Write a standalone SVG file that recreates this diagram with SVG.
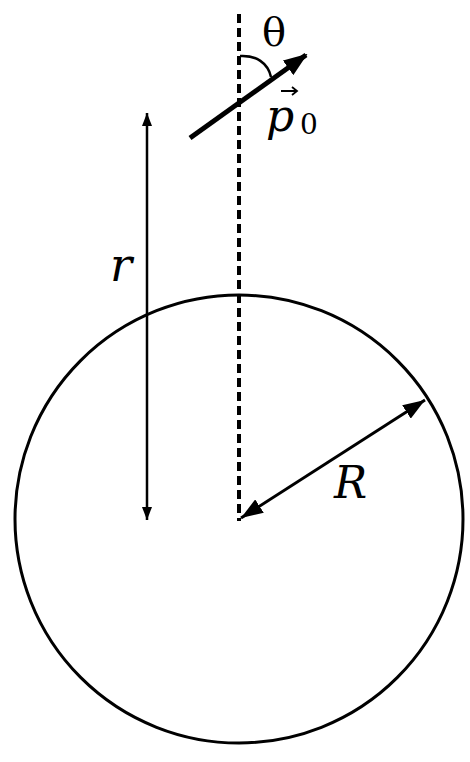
<svg xmlns="http://www.w3.org/2000/svg" width="470" height="762" viewBox="0 0 470 762">
<style>
.ln{stroke:#000;fill:none}
.t{font-family:"DejaVu Serif", serif;fill:#000}
</style>
<defs>
<marker id="ah" viewBox="0 0 22 16" refX="22" refY="8" markerWidth="22" markerHeight="16" orient="auto-start-reverse" markerUnits="userSpaceOnUse"><path d="M0,0 L22,8 L0,16 z" fill="#000"/></marker>
<marker id="ahs" viewBox="0 0 13 10" refX="13" refY="5" markerWidth="13" markerHeight="10" orient="auto-start-reverse" markerUnits="userSpaceOnUse"><path d="M0,0 L13,5 L0,10 z" fill="#000"/></marker>
<marker id="ahb" viewBox="0 0 24 18" refX="22" refY="9" markerWidth="24" markerHeight="18" orient="auto" markerUnits="userSpaceOnUse"><path d="M0,0 L24,9 L0,18 z" fill="#000"/></marker>
</defs>
<g id="sphere"><circle class="ln" cx="239" cy="519" r="224" stroke-width="3"/></g>
<g id="connectors">
<line class="ln" x1="239" y1="14" x2="239" y2="521" stroke-width="4" stroke-dasharray="9,5"/>
<line class="ln" x1="147" y1="113" x2="147" y2="520" stroke-width="2.5" marker-start="url(#ahs)" marker-end="url(#ahs)"/>
<line class="ln" x1="241" y1="518" x2="425" y2="400" stroke-width="3" marker-start="url(#ah)" marker-end="url(#ah)"/>
<line id="dipole" class="ln" x1="190" y1="138" x2="306" y2="55" stroke-width="5" marker-end="url(#ahb)"/>
<path class="ln" d="M240 56 C256 55 268 63 271 77" stroke-width="2.5"/>
</g>
<g id="labels">
<text class="t" x="274" y="46" font-size="40" text-anchor="middle">θ</text>
<text class="t" x="266" y="131" font-style="italic" font-size="44">p</text>
<text class="t" x="300" y="134" font-size="28">0</text>
<path class="ln" d="M281 91 H297 M292 87 L297 91 L292 95" stroke-width="1.8"/>
<text class="t" x="110" y="281" font-style="italic" font-size="46">r</text>
<text class="t" x="334" y="498" font-style="italic" font-size="44">R</text>
</g>
</svg>
